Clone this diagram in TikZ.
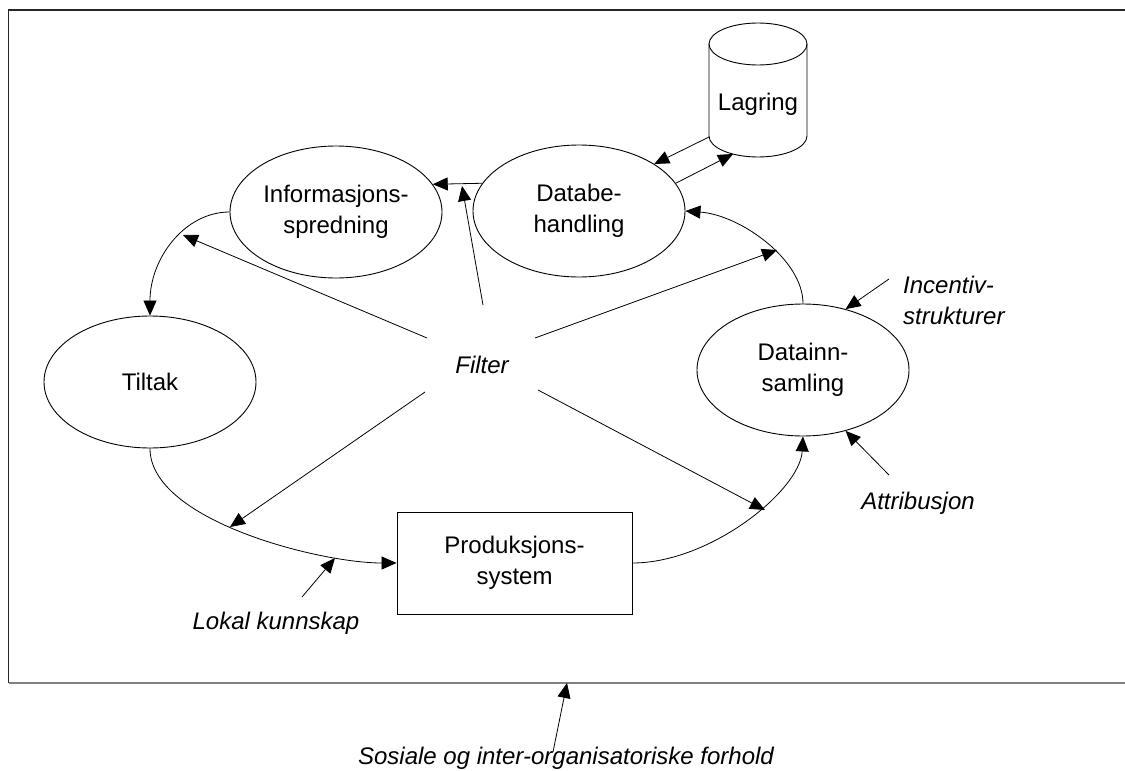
\documentclass[tikz,border=0pt]{standalone}
\usepackage{fontspec}
\setmainfont{Liberation Sans}
\usetikzlibrary{shapes.geometric,arrows.meta,calc}
\begin{document}
\begin{tikzpicture}[x=1pt,y=1pt,
  every node/.style={font=\fontsize{24}{31}\selectfont},
  proc/.style={draw, ellipse, line width=0.9pt, minimum width=212pt, minimum height=132pt, inner sep=0pt, align=center},
  prodbox/.style={draw, rectangle, line width=0.9pt, minimum width=235pt, minimum height=102pt, inner sep=0pt, align=center},
  lbl/.style={font=\fontsize{24}{31}\selectfont\itshape, align=left, inner sep=0pt},
  conn/.style={line width=0.8pt, -{Triangle[length=15pt,width=13pt]}},
  cyl/.style={line width=0.9pt},
]
\useasboundingbox (0,0) rectangle (1125,-771);
% frame
\draw[line width=1.3pt, black!85] (1130,-10) -- (8.5,-10) -- (8.5,-683);
\draw[line width=1.6pt, black!50] (8.5,-683) -- (1130,-683);

% nodes
\node[proc] (info) at (336,-212) {Informasjons-\\spredning};
\node[proc] (db) at (579,-211) {Databe-\\handling};
\node[proc] (tiltak) at (150,-382) {Tiltak};
\node[proc] (dat) at (803,-370) {Datainn-\\samling};
\node[prodbox] (prod) at (514.5,-563) {Produksjons-\\system};

% Lagring cylinder
\draw[cyl] (709,-44) -- (709,-136) arc[start angle=180,end angle=360,x radius=49,y radius=21] -- (807,-44);
\draw[cyl] (758,-44) ellipse[x radius=49, y radius=21];
\node (lag) at (758,-104) {Lagring};
\coordinate (lagA) at (709,-137);
\coordinate (lagB) at (733,-154);

% Lagring <-> Databehandling
\draw[conn] (lagA) -- (db.32);
\draw[conn] (db.16) -- (lagB);

% Databehandling -> Informasjonsspredning
\draw[conn] (db.164) -- (info.16);

% cycle curves
\draw[conn] (info.west) .. controls +(-45,0) and +(0,57) .. (tiltak.north);
\draw[conn] (tiltak.south) .. controls +(0,-72) and +(-77,0) .. (prod.west);
\draw[conn] (prod.east) .. controls +(78,0) and +(-3,-54) .. (dat.south);
\draw[conn] (dat.north) .. controls +(0,44) and +(55,-4) .. (db.east);

% Filter
\node[lbl] (filter) at (482,-365) {Filter};
\coordinate (fs1) at (483,-305); \coordinate (fe1) at (462,-186);
\coordinate (fs2) at (427,-338); \coordinate (fe2) at (183,-235);
\coordinate (fs3) at (425,-392); \coordinate (fe3) at (230,-527);
\coordinate (fs4) at (535,-338); \coordinate (fe4) at (777,-250);
\coordinate (fs5) at (538,-390); \coordinate (fe5) at (765,-510);
\draw[conn] (fs1) -- (fe1);
\draw[conn] (fs2) -- (fe2);
\draw[conn] (fs3) -- (fe3);
\draw[conn] (fs4) -- (fe4);
\draw[conn] (fs5) -- (fe5);

% Incentiv / Attribusjon
\node[lbl, anchor=west] (inc) at (903,-300) {Incentiv-\\strukturer};
\coordinate (incS) at (889,-279);
\draw[conn] (incS) -- (dat.55);
\node[lbl] (att) at (918,-503) {Attribusjon};
\coordinate (attS) at (889,-475);
\draw[conn] (attS) -- (dat.-55);

% Lokal kunnskap
\node[lbl] (lok) at (276,-623) {Lokal kunnskap};
\coordinate (lokS) at (302,-597); \coordinate (lokE) at (335,-558);
\draw[conn] (lokS) -- (lokE);

% Sosiale
\node[lbl] (sos) at (566,-758) {Sosiale og inter-organisatoriske forhold};
\coordinate (sosS) at (553,-752); \coordinate (sosE) at (567,-683);
\draw[conn] (sosS) -- (sosE);
\end{tikzpicture}
\end{document}
